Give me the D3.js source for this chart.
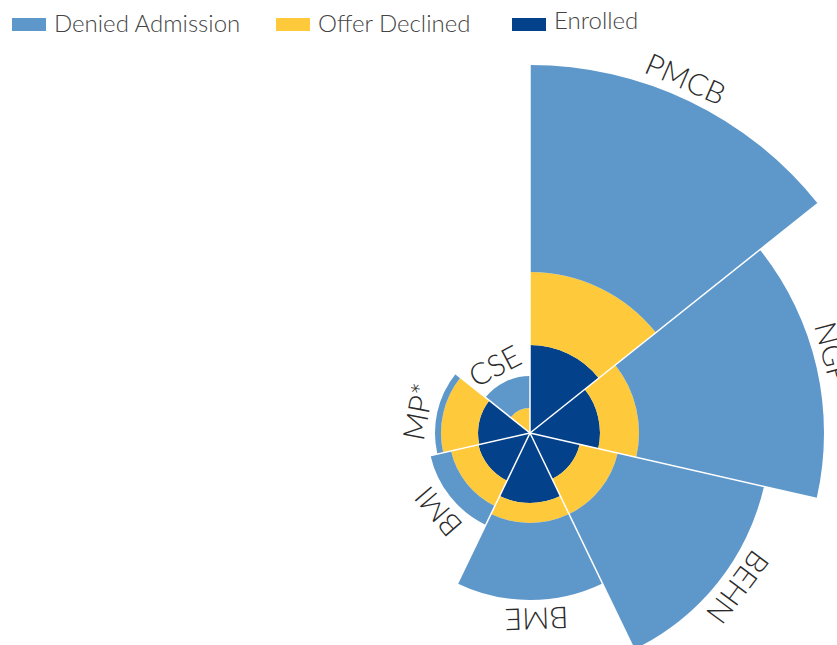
<!DOCTYPE html>
<html>
<head>
<meta charset="utf-8">
<script src="https://cdn.jsdelivr.net/npm/d3@7"></script>
<style>
  body { margin: 0; background: #fff; }
  text { font-family: Lato, "Open Sans", sans-serif; }
</style>
</head>
<body>
<svg width="837" height="645"></svg>
<script>
// programs going clockwise from 12 o'clock
const programs = ["PMCB", "NGP", "BEHN", "BME", "BMI", "MP*", "CSE"]
const enrolled = [88, 70, 51, 70, 53, 52, 0]
const declined = [73, 39, 39, 20, 28, 37, 25]
const denied = [207, 185, 150, 77, 21, 6, 32]
const legendNames = ["Denied Admission", "Offer Declined", "Enrolled"]

let svg = d3.select("svg"),
    cx = 530,
    cy = 433,
    maxR = 368

const colors = {"Enrolled": "#03428a", "Offer Declined": "#fec93a", "Denied Admission": "#5e98ca"}

let rows = programs.map(function (p, i) {
    return {program: p, "Enrolled": enrolled[i], "Offer Declined": declined[i], "Denied Admission": denied[i]}
})

let stack = d3.stack().keys(["Enrolled", "Offer Declined", "Denied Admission"])
let layers = stack(rows)

let totals = rows.map(function (d) {
    return d["Enrolled"] + d["Offer Declined"] + d["Denied Admission"]
})

let x = d3.scaleBand()
    .domain(programs)
    .range([0, 2 * Math.PI])

let y = d3.scaleLinear()
    .domain([0, d3.max(totals)])
    .range([0, maxR])

let arc = d3.arc()
    .innerRadius(function (d) { return y(d[0]) })
    .outerRadius(function (d) { return y(d[1]) })
    .startAngle(function (d) { return x(d.data.program) })
    .endAngle(function (d) { return x(d.data.program) + x.bandwidth() })

let chart = svg.append("g").attr("transform", "translate(" + cx + "," + cy + ")")

chart.selectAll("g.layer")
    .data(layers)
    .enter()
    .append("g")
    .attr("class", "layer")
    .attr("fill", function (d) { return colors[d.key] })
    .selectAll("path")
    .data(function (d) { return d.filter(function (s) { return s[1] > s[0] }) })
    .enter()
    .append("path")
    .attr("d", arc)

// white separators between the wedges
chart.selectAll("line.sep")
    .data(programs)
    .enter()
    .append("line")
    .attr("class", "sep")
    .attr("x1", 0).attr("y1", 0)
    .attr("x2", function (p) { return Math.sin(x(p)) * y(d3.max(totals)) })
    .attr("y2", function (p) { return -Math.cos(x(p)) * y(d3.max(totals)) })
    .attr("stroke", "#fff")
    .attr("stroke-width", 1.5)

// category labels, rotated around the centre (sit a little before mid-wedge)
chart.selectAll("text.cat")
    .data(programs)
    .enter()
    .append("text")
    .attr("class", "cat")
    .attr("transform", function (p) {
        let mid = (x(p) + x.bandwidth() / 2) * 180 / Math.PI - 2
        return "rotate(" + mid + ")"
    })
    .attr("x", 0)
    .attr("y", function (p, i) { return -(y(totals[i]) + 8) })
    .attr("text-anchor", "middle")
    .style("font-size", "30px")
    .style("font-weight", 300)
    .style("fill", "#2b2b2b")
    .text(function (p) { return p })

// legend
const legendX = [12, 276, 512]
const legendDy = [0, 0, -3]
let legend = svg.selectAll("g.legend")
    .data(legendNames)
    .enter()
    .append("g")
    .attr("class", "legend")
    .attr("transform", function (d, i) { return "translate(" + legendX[i] + ",0)" })

legend.append("rect")
    .attr("x", 0)
    .attr("y", 18)
    .attr("width", 34)
    .attr("height", 13)
    .attr("fill", function (d) { return colors[d] })

legend.append("text")
    .attr("x", 42)
    .attr("y", function (d, i) { return 32 + legendDy[i] })
    .style("font-size", "24px")
    .style("font-weight", 300)
    .style("fill", "#444")
    .text(function (d) { return d })
</script>
</body>
</html>
